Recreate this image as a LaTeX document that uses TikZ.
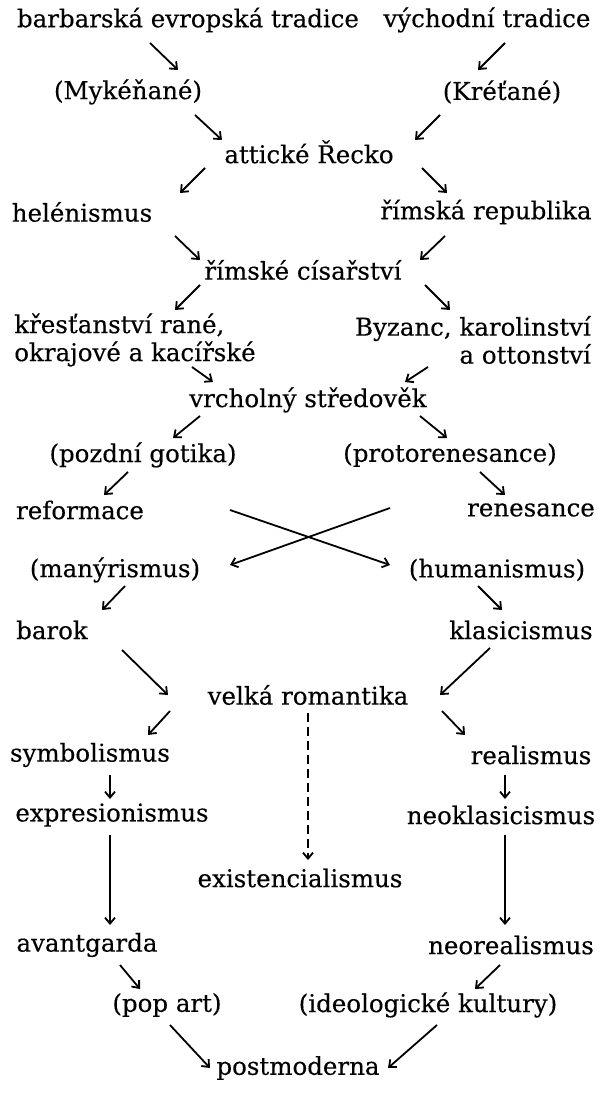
\documentclass[tikz,border=0pt]{standalone}
\usepackage{fontspec}
\setmainfont{DejaVu Serif}[FakeBold=0.3]
\usetikzlibrary{arrows.meta}

\begin{document}
\begin{tikzpicture}[x=1pt, y=-1pt, font=\fontsize{24.5}{28}\selectfont,
        every node/.style={inner sep=0pt},
        arr/.style={line width=1.8pt, -{Straight Barb[length=6pt,width=10pt]}}]
        \useasboundingbox (0,0) rectangle (603,1110);

        % uzly
        \node (barb) at (188,20) {barbarská evropská tradice};
        \node (vych) at (487,20) {východní tradice};
        \node (myk) at (128,92) {(Mykéňané)};
        \node (kret) at (502,92) {(Kréťané)};
        \node (att) at (309,152) {attické Řecko};
        \node (hel) at (82,212) {helénismus};
        \node (rep) at (486,212) {římská republika};
        \node (cis) at (303,270) {římské císařství};
        \node[align=left] (kres) at (135,340) {křesťanství rané,\\okrajové a kacířské};
        \node[align=right] (byz) at (473,340) {Byzanc, karolinství\\a ottonství};
        \node (vrch) at (308,400) {vrcholný středověk};
        \node (pozd) at (143,455) {(pozdní gotika)};
        \node (prot) at (450,455) {(protorenesance)};
        \node (ref) at (80,510) {reformace};
        \node (ren) at (531,510) {renesance};
        \node (many) at (115,570) {(manýrismus)};
        \node (hum) at (497,570) {(humanismus)};
        \node (bar) at (52,630) {barok};
        \node (klas) at (521,630) {klasicismus};
        \node (velk) at (308,695) {velká romantika};
        \node (symb) at (90,755) {symbolismus};
        \node (real) at (531,755) {realismus};
        \node (expr) at (112,815) {expresionismus};
        \node (neok) at (501,815) {neoklasicismus};
        \node (exist) at (300,878) {existencialismus};
        \node (avant) at (87,945) {avantgarda};
        \node (neor) at (511,945) {neorealismus};
        \node (pop) at (167,1005) {(pop art)};
        \node (ideol) at (428,1005) {(ideologické kultury)};
        \node (post) at (298,1068) {postmoderna};

        % sipky
        \draw[arr] ([shift={(-38,23)}]barb.center) -- ([shift={(50,-22)}]myk.center);
        \draw[arr] ([shift={(18,23)}]vych.center) -- ([shift={(-24,-22)}]kret.center);
        \draw[arr] ([shift={(67,23)}]myk.center) -- ([shift={(-87,-12)}]att.center);
        \draw[arr] ([shift={(-62,23)}]kret.center) -- ([shift={(106,-12)}]att.center);
        \draw[arr] ([shift={(-104,16)}]att.center) -- ([shift={(98,-19)}]hel.center);
        \draw[arr] ([shift={(113,16)}]att.center) -- ([shift={(-39,-19)}]rep.center);
        \draw[arr] ([shift={(93,24)}]hel.center) -- ([shift={(-103,-10)}]cis.center);
        \draw[arr] ([shift={(-41,24)}]rep.center) -- ([shift={(117,-10)}]cis.center);
        \draw[arr] ([shift={(-103,15)}]cis.center) -- ([shift={(40,-30)}]kres.center);
        \draw[arr] ([shift={(122,15)}]cis.center) -- ([shift={(-23,-30)}]byz.center);
        \draw[arr] ([shift={(57,27)}]kres.center) -- ([shift={(-95,-18)}]vrch.center);
        \draw[arr] ([shift={(-45,27)}]byz.center) -- ([shift={(97,-18)}]vrch.center);
        \draw[arr] ([shift={(-108,16)}]vrch.center) -- ([shift={(30,-17)}]pozd.center);
        \draw[arr] ([shift={(112,16)}]vrch.center) -- ([shift={(-3,-17)}]prot.center);
        \draw[arr] ([shift={(-15,17)}]pozd.center) -- ([shift={(24,-15)}]ref.center);
        \draw[arr] ([shift={(30,17)}]prot.center) -- ([shift={(-26,-15)}]ren.center);
        \draw[arr] ([shift={(150,0)}]ref.center) -- ([shift={(-107,-5)}]hum.center);
        \draw[arr] ([shift={(-141,-2)}]ren.center) -- ([shift={(115,-5)}]many.center);
        \draw[arr] ([shift={(10,16)}]many.center) -- ([shift={(50,-20)}]bar.center);
        \draw[arr] ([shift={(-19,16)}]hum.center) -- ([shift={(-19,-20)}]klas.center);
        \draw[arr] ([shift={(70,20)}]bar.center) -- ([shift={(-140,0)}]velk.center);
        \draw[arr] ([shift={(-31,18)}]klas.center) -- ([shift={(132,0)}]velk.center);
        \draw[arr] ([shift={(-138,16)}]velk.center) -- ([shift={(58,-20)}]symb.center);
        \draw[arr] ([shift={(134,16)}]velk.center) -- ([shift={(-66,-20)}]real.center);
        \draw[arr, dash pattern=on 9pt off 5pt] ([shift={(0,18)}]velk.center) -- ([shift={(8,-18)}]exist.center);
        \draw[arr] ([shift={(20,20)}]symb.center) -- ([shift={(-2,-16)}]expr.center);
        \draw[arr] ([shift={(-26,20)}]real.center) -- ([shift={(4,-16)}]neok.center);
        \draw[arr] ([shift={(-2,20)}]expr.center) -- ([shift={(23,-20)}]avant.center);
        \draw[arr] ([shift={(4,20)}]neok.center) -- ([shift={(-6,-20)}]neor.center);
        \draw[arr] ([shift={(33,20)}]avant.center) -- ([shift={(-27,-16)}]pop.center);
        \draw[arr] ([shift={(-11,20)}]neor.center) -- ([shift={(47,-16)}]ideol.center);
        \draw[arr] ([shift={(3,20)}]pop.center) -- ([shift={(-88,0)}]post.center);
        \draw[arr] ([shift={(9,20)}]ideol.center) -- ([shift={(90,0)}]post.center);
    \end{tikzpicture}
\end{document}
